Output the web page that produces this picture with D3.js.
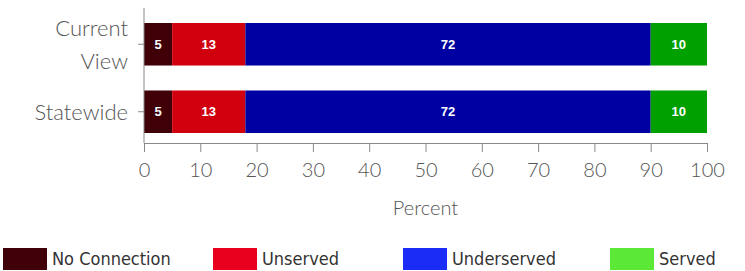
<!DOCTYPE html>
<html>
<head>
<meta charset="utf-8">
<script src="https://cdn.jsdelivr.net/npm/d3@7"></script>
<style>
  html, body { margin: 0; padding: 0; background: #fff; }
  svg { display: block; }
</style>
</head>
<body>
<div id="chart"></div>
<script>
const categories = ['Current View', 'Statewide'];
const seriesNames = ['No Connection', 'Unserved', 'Underserved', 'Served'];
const barColors = ['#3f0008', '#d1000f', '#0000a2', '#00a000'];
const legendColors = ['#40000a', '#e8001e', '#1a2cf5', '#5ce836'];
const currentView = [5, 13, 72, 10];
const statewide = [5, 13, 72, 10];
const xTicks = [0, 10, 20, 30, 40, 50, 60, 70, 80, 90, 100];

const values = [currentView, statewide];
const width = 745, height = 271;
const margin = { top: 8, right: 38, bottom: 128, left: 144 };
const innerW = width - margin.left - margin.right;
const innerH = height - margin.top - margin.bottom;

const svg = d3.select('#chart').append('svg')
  .attr('width', width).attr('height', height);
const g = svg.append('g').attr('transform', `translate(${margin.left},${margin.top})`);

const x = d3.scaleLinear().domain([0, 100]).range([0, innerW]);
// bands sit a bit above the middle of the plot area
const y = d3.scaleBand().domain(categories).range([15, 125]).paddingInner(0.37).paddingOuter(0);

// stacked segments
const rows = categories.map((c, i) => {
  let acc = 0;
  return values[i].map((v, k) => {
    const seg = { cat: c, k, v, x0: acc, x1: acc + v };
    acc += v;
    return seg;
  });
});

const seg = g.selectAll('.row')
  .data(rows)
  .enter().append('g')
  .attr('class', 'row')
  .selectAll('g')
  .data(d => d)
  .enter().append('g');

seg.append('rect')
  .attr('x', d => x(d.x0))
  .attr('y', d => y(d.cat))
  .attr('width', d => x(d.x1) - x(d.x0))
  .attr('height', y.bandwidth())
  .attr('fill', d => barColors[d.k]);

seg.append('text')
  .attr('x', d => (x(d.x0) + x(d.x1)) / 2)
  .attr('y', d => y(d.cat) + y.bandwidth() / 2)
  .attr('dy', '0.36em')
  .attr('text-anchor', 'middle')
  .attr('font-family', 'Arial, "Liberation Sans", sans-serif')
  .attr('font-size', '13px')
  .attr('font-weight', 'bold')
  .attr('fill', '#fff')
  .text(d => d.v);

// x axis
const xAxis = g.append('g')
  .attr('transform', `translate(0,${innerH})`)
  .call(d3.axisBottom(x).tickValues(xTicks).tickSize(9).tickPadding(11));
xAxis.select('.domain').attr('stroke', '#888');
xAxis.selectAll('.tick line').attr('stroke', '#888');
xAxis.selectAll('.tick text')
  .attr('fill', '#555')
  .attr('font-family', 'Lato, "Open Sans", sans-serif')
  .attr('font-weight', 300)
  .attr('font-size', '20px');

g.append('text')
  .attr('x', innerW / 2)
  .attr('y', innerH + 65)
  .attr('dy', '0.36em')
  .attr('text-anchor', 'middle')
  .attr('fill', '#555')
  .attr('font-family', 'Lato, "Open Sans", sans-serif')
  .attr('font-weight', 300)
  .attr('font-size', '20px')
  .text('Percent');

// y axis: line spans the whole plot height
g.append('line')
  .attr('x1', 0).attr('x2', 0)
  .attr('y1', 0).attr('y2', innerH)
  .attr('stroke', '#888');
const yAxis = g.append('g').call(d3.axisLeft(y).tickSize(6).tickSizeOuter(0));
yAxis.select('.domain').remove();
yAxis.selectAll('.tick line').attr('stroke', '#888');
yAxis.selectAll('.tick text').remove();
yAxis.selectAll('.tick').each(function (d) {
  const words = d.split(' ');
  const t = d3.select(this).append('text')
    .attr('text-anchor', 'end')
    .attr('fill', '#555')
    .attr('font-family', 'Lato, "Open Sans", sans-serif')
    .attr('font-weight', 300)
    .attr('font-size', '22px');
  const lh = 33;
  words.forEach((w, i) => {
    t.append('tspan')
      .attr('x', -16)
      .attr('y', (i - (words.length - 1) / 2) * lh)
      .attr('dy', '0.36em')
      .text(w);
  });
});

// legend
const legendX = [3, 213, 403, 610];
const legend = svg.append('g').attr('transform', 'translate(0,248)');
const item = legend.selectAll('g')
  .data(seriesNames)
  .enter().append('g')
  .attr('transform', (d, i) => `translate(${legendX[i]},0)`);
item.append('rect')
  .attr('width', 44).attr('height', 22)
  .attr('fill', (d, i) => legendColors[i]);
item.append('text')
  .attr('x', 49).attr('y', 11)
  .attr('dy', '0.35em')
  .attr('fill', '#333')
  .attr('font-family', '"Liberation Sans Narrow", "DejaVu Sans Condensed", sans-serif')
  .attr('font-size', '18px')
  .text(d => d);
</script>
</body>
</html>
